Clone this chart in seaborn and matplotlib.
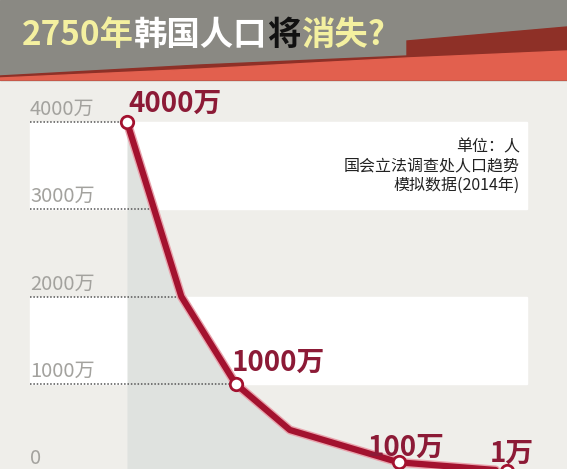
import numpy as np
import pandas as pd
import seaborn as sns
import matplotlib.pyplot as plt
from matplotlib.patches import Polygon
import matplotlib.patheffects as pe

# data (population in 万)
years = [2050, 2150, 2250, 2350, 2550, 2750]
population = [4000, 2000, 1000, 470, 100, 1]
point_labels = ["4000万", "", "1000万", "", "100万", "1万"]
tick_values = [0, 1000, 2000, 3000, 4000]
tick_labels = ["0", "1000万", "2000万", "3000万", "4000万"]
title_parts = [("2750年", "#f4f0a0"), ("韩国人口", "#ffffff"), ("将", "#111111"), ("消失?", "#f4f0a0")]
note_lines = ["单位：人", "国会立法调查处人口趋势", "模拟数据(2014年)"]

sns.set_theme(style="white")
plt.rcParams['font.family'] = ['Noto Sans CJK SC', 'DejaVu Sans']

W, H = 567, 469
fig = plt.figure(figsize=(W / 100, H / 100), dpi=100)
fig.patch.set_facecolor("#efeeea")

# header bar
hdr = fig.add_axes([0, 0, 1, 1], zorder=0)
hdr.set_xlim(0, W)
hdr.set_ylim(H, 0)
hdr.axis("off")
hdr.add_patch(Polygon([(0, 0), (W, 0), (W, 80), (0, 80)], color="#8a8983"))
hdr.add_patch(Polygon([(0, 80), (0, 76), (200, 65), (407, 56), (407, 41), (W, 27), (W, 80)], color="#8e3027"))
hdr.add_patch(Polygon([(0, 80), (0, 78), (200, 69), (407, 58), (W, 51), (W, 80)], color="#e2604e"))

# chart axes (pixel 80..469 vertically)
ax = fig.add_axes([0, 0, 1, (H - 80) / H], zorder=1)
ax.set_facecolor("none")
px_per_year = 54.3 / 100
x0 = years[0] - 127 / px_per_year
x1 = years[0] + (W - 127) / px_per_year
ax.set_xlim(x0, x1)
px_per_val = 87.25 / 1000
ax.set_ylim((471 - 469) / px_per_val, (471 - 80) / px_per_val)
ax.axis("off")

xl, xr = 30 / W, 527 / W
ax.axhspan(3000, 4000, xmin=xl, xmax=xr, color="white", zorder=0)
ax.axhspan(1000, 2000, xmin=xl, xmax=xr, color="white", zorder=0)

ax.fill_between(years, population, 0, color="#dfe2df", zorder=1, lw=0)

# dotted guides from left edge to the curve
x_left = x0 + 30 / px_per_year
rev_y = population[::-1]
rev_x = years[::-1]
for v, lab in zip(tick_values, tick_labels):
    xc = np.interp(v, rev_y, rev_x)
    if v > 0:
        ax.plot([x_left, xc], [v, v], ls=(0, (1, 1.2)), color="#555555", lw=1.1, zorder=2)
    ax.annotate(lab, xy=(x_left, v), xytext=(0, 5), textcoords="offset points",
                ha="left", va="baseline", fontsize=14.5, fontweight="light",
                color="#a3a29e", zorder=3, annotation_clip=False)

df = pd.DataFrame({"year": years, "pop": population, "label": point_labels})
sns.lineplot(data=df, x="year", y="pop", ax=ax, color="#a3122f", lw=4.5, zorder=4,
             clip_on=False,
             path_effects=[pe.Stroke(linewidth=6.5, foreground="#e9a3ad"), pe.Normal()])
marked = df[df["label"] != ""]
sns.scatterplot(data=marked, x="year", y="pop", ax=ax, s=80, color="white",
                edgecolor="#a3122f", linewidth=2, zorder=5, clip_on=False)

offsets = {"4000万": (1, 10), "1000万": (-4, 13), "100万": (-31, 6), "1万": (-17, 9)}
for _, r in marked.iterrows():
    dx, dy = offsets[r["label"]]
    ax.annotate(r["label"], xy=(r["year"], r["pop"]), xytext=(dx * 0.72, dy * 0.72),
                textcoords="offset points", ha="left", va="baseline", fontsize=20,
                fontweight="bold", color="#8c1a36", zorder=6, annotation_clip=False)

# unit note
for i, line in enumerate(note_lines):
    fig.text(520 / W, 1 - (151 + i * 19.5) / H, line, ha="right", va="baseline",
             fontsize=11.5, color="#222222")

# colored title
fig.canvas.draw()
renderer = fig.canvas.get_renderer()
tx = 22
for s, c in title_parts:
    t = fig.text(tx / W, 1 - 45 / H, s, color=c, fontsize=24, fontweight="bold",
                 ha="left", va="baseline", zorder=3)
    tx += t.get_window_extent(renderer).width

fig.savefig("out.png", dpi=100, facecolor=fig.get_facecolor())
